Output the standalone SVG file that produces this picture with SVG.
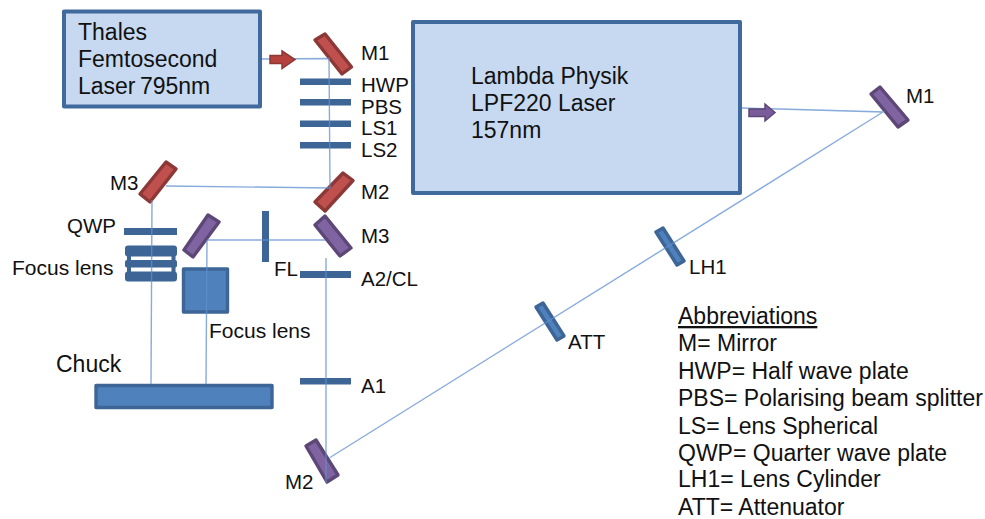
<svg xmlns="http://www.w3.org/2000/svg" width="985" height="519" viewBox="0 0 985 519">
<style>
text{font-family:"Liberation Sans",Arial,sans-serif;fill:#111;font-size:20.500px}
.big{font-size:23px}
.mid{font-size:21px}
.box{fill:#c6d9f1;stroke:#406a9c;stroke-width:4;stroke-linejoin:round}
.beam{stroke:#5f8fcf;stroke-opacity:.75;stroke-width:1.400;fill:none}
.bar{fill:#3d6596}
.blue{fill:#4f81bd;stroke:#3d6596;stroke-width:3.400;stroke-linejoin:round}
.red{fill:#c0504d;stroke:#8c3836;stroke-width:3.400;stroke-linejoin:round}
.pur{fill:#8064a2;stroke:#5c4776;stroke-width:3.400;stroke-linejoin:round}
</style>
<rect width="985" height="519" fill="#fff"/>
<g id="thales"><rect class="box" x="64" y="11.500" width="196" height="95"/>
<text class="big" x="78" y="40">Thales</text><text class="big" x="78" y="67">Femtosecond</text><text class="big" x="78" y="94" word-spacing="-2">Laser 795nm</text></g>
<g id="lambda"><rect class="box" x="413" y="22" width="327" height="171"/>
<text class="big" x="471" y="84">Lambda Physik</text><text class="big" x="471" y="111">LPF220 Laser</text><text class="big" x="471" y="138">157nm</text></g>
<g id="m1-red"><polygon class="red" points="325,34 351.500,67 342,74 315,40"/><text x="361" y="60">M1</text></g>
<g id="hwp"><rect class="bar" x="300" y="78.500" width="51" height="6.500"/><text x="361" y="92">HWP</text></g>
<g id="pbs"><rect class="bar" x="300" y="99" width="51" height="6.500"/><text x="361" y="114">PBS</text></g>
<g id="ls1"><rect class="bar" x="300" y="120.500" width="51" height="6.500"/><text x="361" y="135">LS1</text></g>
<g id="ls2"><rect class="bar" x="300" y="142" width="51" height="6.500"/><text x="361" y="157">LS2</text></g>
<g id="m2-red"><polygon class="red" points="343,173 353,180.500 325,211 315,202"/><text x="361" y="199">M2</text></g>
<g id="m3-red"><polygon class="red" points="166,162 176,169 150,202 140,194"/><text x="110" y="190">M3</text></g>
<g id="m3-pur"><polygon class="pur" points="325,216 351,248 340,256 315,225"/><text x="361" y="243">M3</text></g>
<g id="mirror-left"><polygon class="pur" points="208,215 219,222 193,257 184,250"/></g>
<g id="qwp"><rect class="bar" x="124" y="228" width="53" height="7"/><text x="67" y="233">QWP</text></g>
<g id="fl"><rect class="bar" x="262" y="211" width="7" height="51"/><text x="274" y="276">FL</text></g>
<g id="a2cl"><rect class="bar" x="300" y="271" width="51" height="7"/><text x="361" y="286">A2/CL</text></g>
<g id="a1"><rect class="bar" x="300" y="378" width="51" height="6.500"/><text x="361" y="393">A1</text></g>
<g id="m2-pur"><polygon class="pur" points="316,440 338,475 327,482 306,446"/><text x="285" y="489">M2</text></g>
<g id="m1-pur"><polygon class="pur" points="880,87 908,120 898,127 871,94"/><text x="906" y="103">M1</text></g>
<g id="lh1"><polygon class="blue" points="663,228 684,261 677,265 656,232"/><text x="689" y="274">LH1</text></g>
<g id="att"><polygon class="blue" points="543,303 564,336 557,340 536,307"/><text x="568" y="349">ATT</text></g>
<g id="focus-left"><rect class="bar" x="125" y="245.500" width="52" height="11" rx="3"/><rect class="bar" x="125" y="260" width="52" height="7.500" rx="2"/><rect class="bar" x="125" y="271.500" width="52" height="10" rx="3"/><rect class="bar" x="127" y="250" width="4" height="28"/><rect class="bar" x="171.500" y="250" width="4" height="28"/><text class="mid" x="12" y="275">Focus lens</text></g>
<g id="focus-right"><rect class="blue" x="183.500" y="269" width="44" height="43"/><text class="mid" x="209" y="338">Focus lens</text></g>
<g id="chuck"><rect class="blue" x="96" y="385.500" width="176" height="22"/><text class="big" x="56" y="372">Chuck</text></g>
<g id="abbrev">
<text x="678" y="324" text-decoration="underline" class="big">Abbreviations</text>
<text class="big" x="678" y="351">M= Mirror</text>
<text class="big" x="678" y="379">HWP= Half wave plate</text>
<text class="big" x="678" y="406">PBS= Polarising beam splitter</text>
<text class="big" x="678" y="434">LS= Lens Spherical</text>
<text class="big" x="678" y="461">QWP= Quarter wave plate</text>
<text class="big" x="678" y="487">LH1= Lens Cylinder</text>
<text class="big" x="678" y="515">ATT= Attenuator</text>
</g>
<g id="connectors">
<path class="beam" d="M262 59L329 58.500L330 188L166 186"/>
<path class="beam" d="M152 200L151 384"/>
<path class="beam" d="M207 240L325 240M207 240L206 384"/>
<path class="beam" d="M326 258L326 483"/>
<path class="beam" d="M330 457.500L883 112L742 108"/>
<path d="M270 55.500H282V51L295 59.500L282 68.500V63.500H270Z" fill="#b5413f" stroke="#8c3836" stroke-width="1.500"/>
<path d="M749 109H765V104L775 112.500L765 121V116.500H749Z" fill="#7a5b9c" stroke="#5c4776" stroke-width="1.500"/>
</g>
</svg>
